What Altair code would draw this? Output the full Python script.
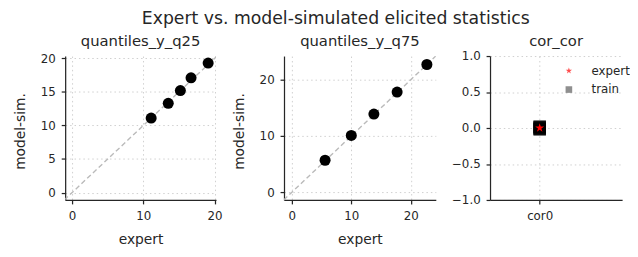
import altair as alt
import pandas as pd

# ---- data ----
q25_expert = [11.1, 13.5, 15.2, 16.7, 19.1]
q25_sim = [11.1, 13.3, 15.2, 17.1, 19.3]
q75_expert = [5.6, 10.0, 13.8, 17.7, 22.7]
q75_sim = [5.7, 10.1, 13.9, 17.8, 22.7]
cor_label = ["cor0"]
cor_expert = [0.0]
cor_train = [0.02, -0.02, 0.01, -0.01, 0.0, 0.015, -0.015]

FONT = "DejaVu Sans"
TXT = "#262626"
STAR = "M0,-1L0.2245,-0.309L0.951,-0.309L0.363,0.118L0.588,0.809L0,0.382L-0.588,0.809L-0.363,0.118L-0.951,-0.309L-0.2245,-0.309Z"

H = 146


def ptitle(text, off):
    return alt.TitleParams(text, fontSize=15, font=FONT, color=TXT,
                           fontWeight="normal", offset=off)


def scatter_panel(title, ex, sim, xdom, ydom, xt, yt, w, off):
    df = pd.DataFrame({"expert": ex, "sim": sim})
    lo = min(xdom[0], ydom[0])
    hi = max(xdom[1], ydom[1])
    diag = pd.DataFrame({"expert": [lo, hi], "sim": [lo, hi]})
    xs = alt.Scale(domain=xdom, nice=False, zero=False)
    ys = alt.Scale(domain=ydom, nice=False, zero=False)
    xax = alt.Axis(values=xt, title="expert", titleX=w / 2, titleY=44,
                   titleBaseline="alphabetic", titleAlign="center")
    yax = alt.Axis(values=yt, title="model-sim.", titleX=-45, titleY=76,
                   titleAngle=270, titleBaseline="middle", titleAlign="center")
    enc_x = alt.X("expert:Q", scale=xs, axis=xax)
    enc_y = alt.Y("sim:Q", scale=ys, axis=yax)
    line = alt.Chart(diag).mark_line(color="#bababa", strokeDash=[5, 3],
                                     strokeWidth=1.4, clip=True).encode(x=enc_x, y=enc_y)
    pts = alt.Chart(df).mark_circle(color="black", opacity=1, size=125).encode(x=enc_x, y=enc_y)
    return alt.layer(line, pts).properties(width=w, height=H, title=ptitle(title, off))


p1 = scatter_panel("quantiles_y_q25", q25_expert, q25_sim,
                   [-0.97, 20.2], [-1.1, 20.35], [0, 10, 20], [0, 5, 10, 15, 20], 153, 4)
p2 = scatter_panel("quantiles_y_q75", q75_expert, q75_sim,
                   [-1.3, 24.2], [-1.35, 24.2], [0, 10, 20], [0, 10, 20], 154, 7)

# correlation panel
train_df = pd.DataFrame({"x": [0.0] * len(cor_train), "v": cor_train, "src": "train"})
expert_df = pd.DataFrame({"x": [0.0] * len(cor_expert), "v": cor_expert, "src": "expert"})
cor_df = pd.concat([train_df, expert_df], ignore_index=True)

W3 = 134
xs3 = alt.Scale(domain=[-0.5, 0.83], nice=False, zero=False)
ys3 = alt.Scale(domain=[-1, 1], nice=False, zero=False)
x3 = alt.X("x:Q", scale=xs3,
           axis=alt.Axis(values=[0], labelExpr="'" + cor_label[0] + "'", title=None))
y3 = alt.Y("v:Q", scale=ys3,
           axis=alt.Axis(values=[-1, -0.5, 0, 0.5, 1], format=".1f", title=None))

# legend carrier (tiny marks hidden beneath the real ones)
legend_layer = alt.Chart(cor_df).mark_point(filled=True, size=1, strokeWidth=0).encode(
    x=x3, y=y3,
    color=alt.Color("src:N", scale=alt.Scale(domain=["expert", "train"], range=["red", "#5f5f5f"]),
                    legend=alt.Legend(title=None, orient="none", legendX=505, legendY=9,
                                      labelFontSize=12, labelFont=FONT, labelColor=TXT,
                                      symbolSize=45, rowPadding=7,
                                      labelOffset=17, symbolStrokeWidth=0)),
    shape=alt.Shape("src:N", scale=alt.Scale(domain=["expert", "train"], range=[STAR, "square"])),
)
train_layer = alt.Chart(train_df).mark_point(
    filled=True, shape="square", color="black", opacity=0.6, size=160, strokeWidth=0
).encode(x=x3, y=y3)
expert_layer = alt.Chart(expert_df).mark_point(
    filled=True, shape=STAR, color="red", opacity=1, size=90, strokeWidth=0
).encode(x=x3, y=y3)
p3 = alt.layer(legend_layer, train_layer, expert_layer).properties(
    width=W3, height=H, title=ptitle("cor_cor", 1))


def spacer(w):
    return alt.Chart(pd.DataFrame({"a": [0]})).mark_point(opacity=0, size=1).encode(
        x=alt.value(0), y=alt.value(H / 2)).properties(width=w, height=H)


chart = alt.hconcat(p1, spacer(69), p2, spacer(55), p3, spacing=0, bounds="flush").properties(
    title=alt.TitleParams("Expert vs. model-simulated elicited statistics", fontSize=17.5,
                          font=FONT, color=TXT, fontWeight="normal", anchor="middle",
                          offset=6, dx=14),
    padding={"left": 6, "top": 0, "right": 0, "bottom": 0},
).configure_view(stroke=None).configure_axis(
    domainColor=TXT, domainWidth=1.25, tickColor=TXT, tickSize=4, tickWidth=1.25,
    labelFont=FONT, labelFontSize=12, labelColor=TXT, labelPadding=6,
    titleFont=FONT, titleFontSize=14, titleFontWeight="normal", titleColor=TXT,
    gridColor="#cfcfcf", gridDash=[1.5, 3], gridWidth=1,
).configure_axisX(labelPadding=7)

chart.save("out.html", embed_options={"renderer": "svg", "actions": False})
